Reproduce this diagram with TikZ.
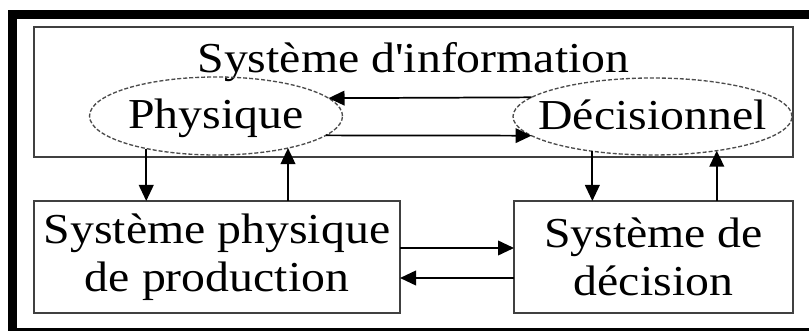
\documentclass[tikz,border=0pt]{standalone}
\usepackage{fontspec}
\setmainfont{Liberation Serif}
\newfontfamily\nomapfont{Liberation Serif}
\usepackage{graphicx}
\usetikzlibrary{arrows.meta,shapes.geometric}
\newcommand{\hs}[1]{\scalebox{1.12}[1]{#1}}
\begin{document}
\begin{tikzpicture}[x=0.75pt,y=-0.75pt,
  box/.style={draw=black!75,line width=1.5pt,rectangle,inner sep=0pt,outer sep=0pt,align=center,font=\fontsize{32}{36}\selectfont},
  oval/.style={draw=black!70,dash pattern=on 3pt off 1.5pt,line width=1pt,ellipse,inner sep=0pt,outer sep=0pt},
  lbl/.style={font=\fontsize{32}{36}\selectfont,inner sep=0pt,anchor=base},
  arr/.style={line width=1.3pt,-{Triangle[length=12pt,width=11pt]}}]
\useasboundingbox (0,0) rectangle (809,331);
\fill[white] (0,0) rectangle (809,331);
% outer frame
\fill[black] (8,10) rectangle (809,19);
\fill[black] (8,10) rectangle (17,331);
\fill[black] (8,328) rectangle (809,331);
% boxes
\node[box,minimum width=569.25pt,minimum height=97.5pt] (info) at (413.5,92) {};
\node[lbl] (title) at (413.5,73) {\hs{Système d{\nomapfont '}information}};
\node[oval,minimum width=189.75pt,minimum height=58.5pt] (phys) at (216,116) {};
\node[oval,minimum width=209.25pt,minimum height=57.75pt] (dec) at (652.5,116.5) {};
\node[lbl] (physt) at ([yshift=-9.75pt]phys.center) {\hs{Physique}};
\node[lbl] (dect) at ([yshift=-9.75pt]dec.center) {\hs{Décisionnel}};
\node[box,minimum width=274.5pt,minimum height=84pt] (spp) at (217,257) {\hs{Système physique}\\\hs{de production}};
\node[box,minimum width=209.25pt,minimum height=84pt] (sd) at (653.5,257) {\hs{Système de}\\\hs{décision}};
% arrows inside information system
\draw[arr] (dec.171.7) -- (phys.9.1);
\draw[arr] (phys.-10.4) -- (dec.189.5);
% vertical arrows
\draw[arr] (phys.205.4) -- (phys.205.4 |- spp.north);
\draw[arr] (spp.north -| phys.336) -- (phys.336);
\draw[arr] (dec.210.1) -- (dec.210.1 |- sd.north);
\draw[arr] (sd.north -| dec.332.4) -- (dec.332.4);
% horizontal arrows
\coordinate (r1) at ([yshift=6.75pt]spp.east);
\coordinate (r2) at ([yshift=-15.75pt]sd.west);
\draw[arr] (r1) -- (r1 -| sd.west);
\draw[arr] (r2) -- (r2 -| spp.east);
\end{tikzpicture}
\end{document}
